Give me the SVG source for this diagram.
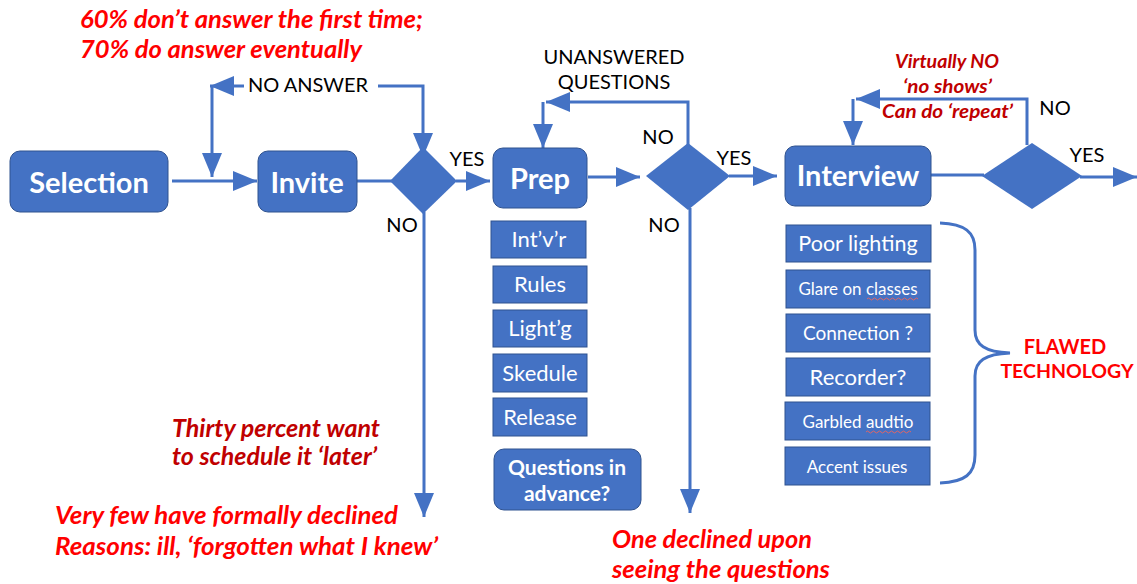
<svg xmlns="http://www.w3.org/2000/svg" width="1137" height="584" viewBox="0 0 1137 584">
<defs>
<marker id="ah" markerUnits="userSpaceOnUse" markerWidth="24" markerHeight="20" refX="24" refY="10" orient="auto">
<path d="M0,0 L24,10 L0,20 z" fill="#4472C4"/>
</marker>
<style>
.box{fill:#4472C4;stroke:#2F528F;stroke-width:1}
.sq{fill:#4472C4;stroke:#2F528F;stroke-width:1}
.dia{fill:#4472C4}
.con{fill:none;stroke:#4472C4;stroke-width:3}
.main{font-family:Lato,"Liberation Sans",sans-serif;font-weight:bold;fill:#fff;text-anchor:middle}
.sub{font-family:Lato,"Liberation Sans",sans-serif;fill:#fff;text-anchor:middle}
.lbl{font-family:Lato,"Liberation Sans",sans-serif;fill:#000;font-size:20px;text-anchor:middle}
.red{font-family:Lato,"Liberation Sans",sans-serif;font-weight:bold;font-style:italic;fill:#FF0000;font-size:24px}
.dred{font-family:Lato,"Liberation Sans",sans-serif;font-weight:bold;font-style:italic;fill:#C00000}
.sp{fill:none;stroke:#E06666;stroke-width:1}
</style>
</defs>

<g id="connectors">
<line class="con" x1="172" y1="181" x2="257" y2="181" marker-end="url(#ah)"/>
<line class="con" x1="357" y1="181" x2="392" y2="181"/>
<polyline class="con" points="378,86 423,86 423,157" marker-end="url(#ah)"/>
<line class="con" x1="244" y1="86" x2="210" y2="86" marker-end="url(#ah)"/>
<line class="con" x1="212" y1="86" x2="212" y2="177" marker-end="url(#ah)"/>
<line class="con" x1="456" y1="181" x2="490" y2="181" marker-end="url(#ah)"/>
<line class="con" x1="424" y1="212" x2="424" y2="517" marker-end="url(#ah)"/>
<line class="con" x1="588" y1="177" x2="640" y2="177" marker-end="url(#ah)"/>
<polyline class="con" points="688,145 688,102 546,102" marker-end="url(#ah)"/>
<line class="con" x1="543" y1="102" x2="543" y2="148" marker-end="url(#ah)"/>
<line class="con" x1="729" y1="176" x2="777" y2="176" marker-end="url(#ah)"/>
<line class="con" x1="690" y1="208" x2="690" y2="513" marker-end="url(#ah)"/>
<line class="con" x1="931" y1="175" x2="984" y2="175"/>
<line class="con" x1="1080" y1="177" x2="1137" y2="177" marker-end="url(#ah)"/>
<polyline class="con" points="1027,145 1027,99 856,99" marker-end="url(#ah)"/>
<line class="con" x1="853" y1="99" x2="853" y2="145" marker-end="url(#ah)"/>
<path class="con" d="M940,223 C965,224 975,232 975,250 L975,330 C975,345 985,352 1010,353 C985,354 975,361 975,376 L975,455 C975,474 965,482 940,483" stroke-width="2.5"/>
</g>

<g id="selection">
<rect class="box" x="10" y="151" width="158" height="61" rx="10"/>
<text class="main" x="89" y="193" font-size="29">Selection</text>
</g>
<g id="invite">
<rect class="box" x="258" y="151" width="99" height="61" rx="10"/>
<text class="main" x="307" y="193" font-size="29">Invite</text>
</g>
<g id="decision1">
<polygon class="dia" points="423,147 457,181 423,214 390,181"/>
</g>
<g id="prep">
<rect class="box" x="493" y="148" width="94" height="60" rx="10"/>
<text class="main" x="540" y="189" font-size="29">Prep</text>
</g>
<g id="decision2">
<polygon class="dia" points="688,143 730,176 688,210 646,176"/>
</g>
<g id="interview">
<rect class="box" x="785" y="146" width="146" height="60" rx="10"/>
<text class="main" x="858" y="186" font-size="29">Interview</text>
</g>
<g id="decision3">
<polygon class="dia" points="1032,143 1082,176 1032,209 982,176"/>
</g>

<g id="prep-items">
<rect class="sq" x="491" y="221" width="95" height="37"/>
<text class="sub" x="539" y="247" font-size="22">Int’v’r</text>
<rect class="sq" x="493" y="266" width="94" height="37"/>
<text class="sub" x="540" y="292" font-size="22">Rules</text>
<rect class="sq" x="493" y="310" width="94" height="37"/>
<text class="sub" x="540" y="336" font-size="22">Light’g</text>
<rect class="sq" x="493" y="354" width="94" height="38"/>
<text class="sub" x="540" y="381" font-size="22">Skedule</text>
<rect class="sq" x="493" y="398" width="94" height="38"/>
<text class="sub" x="540" y="425" font-size="22">Release</text>
</g>
<g id="questions">
<rect class="box" x="494" y="449" width="147" height="61" rx="10"/>
<text class="main" x="567" y="475" font-size="21">Questions in</text>
<text class="main" x="567" y="501" font-size="21">advance?</text>
</g>

<g id="interview-items">
<rect class="sq" x="786" y="225" width="145" height="37"/>
<text class="sub" x="858" y="251" font-size="21.5">Poor lighting</text>
<rect class="sq" x="786" y="270" width="144" height="38"/>
<text class="sub" x="858" y="295" font-size="17">Glare on classes</text>
<path class="sp" d="M867,299 q1.5,-2 3,0 t3,0 t3,0 t3,0 t3,0 t3,0 t3,0 t3,0 t3,0 t3,0 t3,0 t3,0 t3,0 t3,0 t3,0 t3,0 t3,0"/>
<rect class="sq" x="786" y="314" width="144" height="38"/>
<text class="sub" x="858" y="340" font-size="19">Connection ?</text>
<rect class="sq" x="786" y="358" width="144" height="38"/>
<text class="sub" x="858" y="385" font-size="22">Recorder?</text>
<rect class="sq" x="785" y="402" width="145" height="38"/>
<text class="sub" x="858" y="428" font-size="17">Garbled audtio</text>
<path class="sp" d="M866,432 q1.5,-2 3,0 t3,0 t3,0 t3,0 t3,0 t3,0 t3,0 t3,0 t3,0 t3,0 t3,0 t3,0 t3,0 t3,0 t3,0"/>
<rect class="sq" x="785" y="447" width="145" height="38"/>
<text class="sub" x="857" y="473" font-size="17">Accent issues</text>
</g>

<g id="labels">
<text class="lbl" x="308" y="92">NO ANSWER</text>
<text class="lbl" x="467" y="166">YES</text>
<text class="lbl" x="402" y="232">NO</text>
<text class="lbl" x="614" y="64">UNANSWERED</text>
<text class="lbl" x="614" y="89">QUESTIONS</text>
<text class="lbl" x="658" y="144">NO</text>
<text class="lbl" x="734" y="165">YES</text>
<text class="lbl" x="664" y="232">NO</text>
<text class="lbl" x="1055" y="115">NO</text>
<text class="lbl" x="1087" y="162">YES</text>
</g>

<g id="annotations">
<text class="red" x="80" y="28" textLength="343" lengthAdjust="spacingAndGlyphs">60% don’t answer the first time;</text>
<text class="red" x="80" y="58" textLength="282" lengthAdjust="spacingAndGlyphs">70% do answer eventually</text>
<text class="dred" x="895" y="68" font-size="19" textLength="104" lengthAdjust="spacingAndGlyphs">Virtually NO</text>
<text class="dred" x="903" y="93" font-size="19" textLength="89" lengthAdjust="spacingAndGlyphs">‘no shows’</text>
<text class="dred" x="882" y="118" font-size="19" textLength="131" lengthAdjust="spacingAndGlyphs">Can do ‘repeat’</text>
<text class="dred" x="172" y="437" font-size="24" textLength="208" lengthAdjust="spacingAndGlyphs">Thirty percent want</text>
<text class="dred" x="172" y="465" font-size="24" textLength="205" lengthAdjust="spacingAndGlyphs">to schedule it ‘later’</text>
<text class="red" x="55" y="524" textLength="343" lengthAdjust="spacingAndGlyphs">Very few have formally declined</text>
<text class="red" x="55" y="555" textLength="383" lengthAdjust="spacingAndGlyphs">Reasons: ill, ‘forgotten what I knew’</text>
<text class="red" x="612" y="548" textLength="200" lengthAdjust="spacingAndGlyphs">One declined upon</text>
<text class="red" x="612" y="578" textLength="218" lengthAdjust="spacingAndGlyphs">seeing the questions</text>
<text x="1065" y="354" font-family="Lato,'Liberation Sans',sans-serif" font-weight="bold" font-size="20" fill="#FF0000" text-anchor="middle">FLAWED</text>
<text x="1067" y="378" font-family="Lato,'Liberation Sans',sans-serif" font-weight="bold" font-size="19.5" fill="#FF0000" text-anchor="middle">TECHNOLOGY</text>
</g>
</svg>
